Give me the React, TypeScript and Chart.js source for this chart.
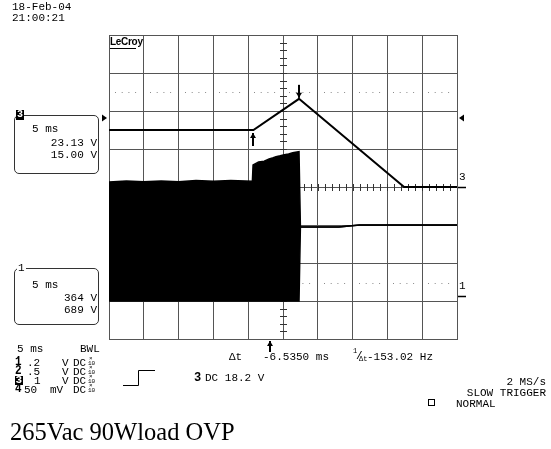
import React, { useEffect, useRef } from "react";
import { Chart, registerables } from "chart.js";

Chart.register(...registerables);

// Horizontal axis: time in ms (5 ms/div, 10 divisions). Vertical axis: screen divisions (0..8).
const timeMinMs = 0;
const timeMaxMs = 50;
const msPerDiv = 5;
const divisionCount = 8;

// Channel 3 trace (cursor-measured ramp)
const ch3TimeMs = [0, 20.75, 27.3, 42.4, 50];
const ch3LevelDiv = [5.5, 5.5, 6.32, 4.0, 4.0];

// Channel 1 envelope (switching waveform, shown as a filled band)
const ch1TimeMs = [0, 2.5, 5, 7.5, 10, 12.5, 15, 17.5, 20.6, 20.7, 21.5, 22.3, 23.0, 23.6, 24.0, 24.6, 25.2, 25.8, 26.4, 27.0, 27.3, 27.5, 30, 33, 36, 50];
const ch1UpperDiv = [4.13, 4.16, 4.14, 4.16, 4.14, 4.17, 4.15, 4.17, 4.15, 4.58, 4.66, 4.68, 4.74, 4.77, 4.8, 4.82, 4.85, 4.87, 4.9, 4.92, 4.93, 2.95, 2.95, 2.95, 3.0, 3.0];
const ch1LowerDiv = [1.0, 1.0, 1.0, 1.0, 1.0, 1.0, 1.0, 1.0, 1.0, 1.0, 1.0, 1.0, 1.0, 1.0, 1.0, 1.0, 1.0, 1.0, 1.0, 1.0, 1.0, 2.95, 2.95, 2.95, 3.0, 3.0];

const cursorTimesMs = [20.75, 27.285];
const triggerTimeMs = 23.13;
const triggerLevelDiv = 5.82;
const referenceLevelsDiv = [6.5, 1.47];
const ch3GroundDiv = 4.0;
const ch1GroundDiv = 1.13;

// Channel settings table
const chanNames = ["1", "2", "3", "4"];
const chanValues = [".2", ".5", "1", "50"];
const chanValueX = [27, 27, 34, 24];
const chanUnits = ["V", "V", "V", "mV"];
const chanUnitX = [62, 62, 62, 50];

const mono = '"Liberation Mono", "DejaVu Sans Mono", monospace';
const GRID = "#555";

function toXY(xs: number[], ys: number[]) {
  return xs.map((x, i) => ({ x, y: ys[i] }));
}

const scopePlugin = {
  id: "scopeDecor",
  beforeDatasetsDraw(chart: any) {
    const { ctx, scales } = chart;
    const x = scales.x;
    const y = scales.y;
    ctx.save();
    ctx.lineWidth = 1;
    // dotted reference levels
    ctx.strokeStyle = "#8a8a8a";
    ctx.setLineDash([1, 5.7]);
    for (const lv of referenceLevelsDiv) {
      const py = Math.round(y.getPixelForValue(lv)) + 0.5;
      for (let t = timeMinMs; t < timeMaxMs; t += msPerDiv) {
        const x0 = Math.round(x.getPixelForValue(t)) + 6;
        const x1 = x0 + 22;
        ctx.beginPath();
        ctx.moveTo(x0, py);
        ctx.lineTo(x1, py);
        ctx.stroke();
      }
    }
    ctx.setLineDash([]);
    // centre graticule ticks
    ctx.strokeStyle = "#333";
    const cx = Math.round(x.getPixelForValue((timeMinMs + timeMaxMs) / 2)) + 0.5;
    const cy = Math.round(y.getPixelForValue(divisionCount / 2)) + 0.5;
    for (let k = 1; k < divisionCount * 5; k++) {
      const py = Math.round(y.getPixelForValue(k / 5)) + 0.5;
      ctx.beginPath();
      ctx.moveTo(cx - 3.5, py);
      ctx.lineTo(cx + 3.5, py);
      ctx.stroke();
    }
    for (let k = 1; k < (timeMaxMs - timeMinMs); k++) {
      const px = Math.round(x.getPixelForValue(timeMinMs + k)) + 0.5;
      ctx.beginPath();
      ctx.moveTo(px, cy - 3.5);
      ctx.lineTo(px, cy + 3.5);
      ctx.stroke();
    }
    ctx.restore();
  },
  afterDraw(chart: any) {
    const { ctx, scales, chartArea } = chart;
    const x = scales.x;
    const y = scales.y;
    ctx.save();
    ctx.fillStyle = "#000";
    ctx.strokeStyle = "#000";
    const arrow = (px: number, tip: number, tail: number) => {
      const dir = tail > tip ? 1 : -1;
      ctx.fillRect(px - 1, Math.min(tip, tail), 2, Math.abs(tail - tip));
      ctx.beginPath();
      ctx.moveTo(px, tip);
      ctx.lineTo(px - 3, tip + dir * 5);
      ctx.lineTo(px + 3, tip + dir * 5);
      ctx.closePath();
      ctx.fill();
    };
    // cursors
    const c1 = Math.round(x.getPixelForValue(cursorTimesMs[0]));
    const c1y = y.getPixelForValue(ch3LevelDiv[1]);
    arrow(c1, c1y + 3, c1y + 16);
    const c2 = Math.round(x.getPixelForValue(cursorTimesMs[1]));
    const c2y = y.getPixelForValue(ch3LevelDiv[2]);
    arrow(c2, c2y - 1, c2y - 14);
    // trigger position
    const tp = Math.round(x.getPixelForValue(triggerTimeMs));
    arrow(tp, chartArea.bottom + 2, chartArea.bottom + 13);
    // trigger level markers
    const ty = Math.round(y.getPixelForValue(triggerLevelDiv));
    ctx.beginPath();
    ctx.moveTo(chartArea.left - 7, ty - 3.5);
    ctx.lineTo(chartArea.left - 7, ty + 3.5);
    ctx.lineTo(chartArea.left - 2, ty);
    ctx.closePath();
    ctx.fill();
    ctx.beginPath();
    ctx.moveTo(chartArea.right + 7, ty - 3.5);
    ctx.lineTo(chartArea.right + 7, ty + 3.5);
    ctx.lineTo(chartArea.right + 2, ty);
    ctx.closePath();
    ctx.fill();
    // ground markers
    ctx.lineWidth = 1.5;
    for (const g of [ch3GroundDiv, ch1GroundDiv]) {
      const gy = Math.round(y.getPixelForValue(g)) + 0.5;
      ctx.beginPath();
      ctx.moveTo(chartArea.right + 1, gy);
      ctx.lineTo(chartArea.right + 9, gy);
      ctx.stroke();
    }
    // trigger slope symbol
    ctx.lineWidth = 1;
    ctx.beginPath();
    ctx.moveTo(123, 385.5);
    ctx.lineTo(138.5, 385.5);
    ctx.lineTo(138.5, 370.5);
    ctx.lineTo(155, 370.5);
    ctx.stroke();
    // square
    ctx.strokeRect(428.5, 399.5, 6, 6);
    ctx.restore();
  },
};

function T(props: { x?: number; right?: number; y: number; size?: number; bold?: boolean; children: any; style?: any }) {
  const { x, right, y, size = 11, bold, children, style } = props;
  const s: any = {
    position: "absolute",
    top: y,
    fontFamily: mono,
    fontSize: size,
    lineHeight: `${size}px`,
    fontWeight: bold ? "bold" : "normal",
    whiteSpace: "pre",
    color: "#000",
    ...style,
  };
  if (right !== undefined) s.right = 551 - right;
  else s.left = x;
  return <div style={s}>{children}</div>;
}

function Stack({ x, y }: { x: number; y: number }) {
  return (
    <>
      <T x={x + 1} y={y - 2} size={6}>×</T>
      <T x={x} y={y + 3} size={6}>10</T>
    </>
  );
}

export default function App() {
  const ref = useRef<HTMLCanvasElement | null>(null);
  useEffect(() => {
    if (!ref.current) return;
    const chart = new Chart(ref.current, {
      type: "line",
      data: {
        datasets: [
          {
            label: "CH1 upper",
            data: toXY(ch1TimeMs, ch1UpperDiv),
            borderColor: "#000",
            backgroundColor: "#000",
            borderWidth: 1.5,
            pointRadius: 0,
            fill: "+1",
          },
          {
            label: "CH1 lower",
            data: toXY(ch1TimeMs, ch1LowerDiv),
            borderColor: "#000",
            borderWidth: 1.5,
            pointRadius: 0,
            fill: false,
          },
          {
            label: "CH3",
            data: toXY(ch3TimeMs, ch3LevelDiv),
            borderColor: "#000",
            borderWidth: 2,
            pointRadius: 0,
            fill: false,
          },
        ],
      },
      options: {
        animation: false,
        responsive: false,
        maintainAspectRatio: false,
        layout: { padding: { left: 109, top: 35, right: 94, bottom: 110 } },
        plugins: { legend: { display: false }, tooltip: { enabled: false } },
        scales: {
          x: {
            type: "linear",
            min: timeMinMs,
            max: timeMaxMs,
            ticks: { display: false, stepSize: msPerDiv },
            grid: { color: GRID, lineWidth: 1, drawTicks: false },
            border: { display: true, color: GRID },
          },
          y: {
            type: "linear",
            min: 0,
            max: divisionCount,
            ticks: { display: false, stepSize: 1 },
            grid: { color: GRID, lineWidth: 1, drawTicks: false },
            border: { display: true, color: GRID },
          },
        },
      },
      plugins: [scopePlugin],
    } as any);
    return () => chart.destroy();
  }, []);

  const box = (top: number, height: number): any => ({
    position: "absolute",
    left: 14,
    top,
    width: 83,
    height,
    border: "1px solid #333",
    borderRadius: 5,
  });

  const rowTops = [358, 367, 376, 385];

  return (
    <div style={{ position: "absolute", left: 0, top: 0, width: 551, height: 449, background: "#fff", overflow: "hidden" }}>
      <canvas ref={ref} width={551} height={449} style={{ position: "absolute", left: 0, top: 0, width: 551, height: 449 }} />

      <T x={12} y={2}>18-Feb-04</T>
      <T x={12} y={13}>21:00:21</T>

      <div style={{ position: "absolute", left: 110, top: 37, fontFamily: '"Liberation Sans", Arial, sans-serif', fontWeight: "bold", fontSize: 10, lineHeight: "10px", letterSpacing: -0.3 }}>LeCroy</div>
      <div style={{ position: "absolute", left: 110, top: 48, width: 26, height: 1, background: "#000" }} />

      {/* channel 3 zoom box */}
      <div style={box(115, 57)} />
      <T x={16} y={110} size={10} bold style={{ background: "#000", color: "#fff", padding: "0 1px" }}>3</T>
      <T x={32} y={124}>5 ms</T>
      <T right={97} y={138}>23.13 V</T>
      <T right={97} y={150}>15.00 V</T>

      {/* channel 1 zoom box */}
      <div style={box(268, 55)} />
      <T x={17} y={263} size={11} style={{ background: "#fff", padding: "0 1px" }}>1</T>
      <T x={32} y={280}>5 ms</T>
      <T right={97} y={293}>364 V</T>
      <T right={97} y={305}>689 V</T>

      {/* right-side channel markers */}
      <T x={459} y={172}>3</T>
      <T x={459} y={281}>1</T>

      {/* bottom status */}
      <T x={17} y={344}>5 ms</T>
      <T x={80} y={344}>BWL</T>

      {chanNames.map((n, i) => (
        <React.Fragment key={n}>
          {i === 2 ? (
            <T x={15} y={rowTops[i]} size={11} bold style={{ background: "#000", color: "#fff", lineHeight: "9px", padding: "0 0.5px" }}>{n}</T>
          ) : (
            <T x={15} y={rowTops[i] - 1} size={11} bold style={{ transform: "scaleY(1.15)" }}>{n}</T>
          )}
          <T x={chanValueX[i]} y={rowTops[i]}>{chanValues[i]}</T>
          <T x={chanUnitX[i]} y={rowTops[i]}>{chanUnits[i]}</T>
          <T x={73} y={rowTops[i]}>DC</T>
          <Stack x={88} y={rowTops[i]} />
        </React.Fragment>
      ))}

      <T x={194} y={372} bold size={12}>3</T>
      <T x={205} y={373}>DC 18.2 V</T>

      <T x={229} y={352}>Δt</T>
      <T x={263} y={352}>-6.5350 ms</T>
      <T x={353} y={348} size={7}>1</T>
      <T x={356} y={351}>/</T>
      <T x={359} y={356} size={7}>Δt</T>
      <T x={367} y={352}>-153.02 Hz</T>

      <T right={546} y={377}>2 MS/s</T>
      <T right={546} y={388}>SLOW TRIGGER</T>
      <T x={456} y={399}>NORMAL</T>

      <div style={{ position: "absolute", left: 10, top: 418, fontFamily: '"Liberation Serif", "Times New Roman", serif', fontSize: 24.5, lineHeight: "normal", color: "#000", whiteSpace: "pre" }}>265Vac 90Wload OVP</div>
    </div>
  );
}
